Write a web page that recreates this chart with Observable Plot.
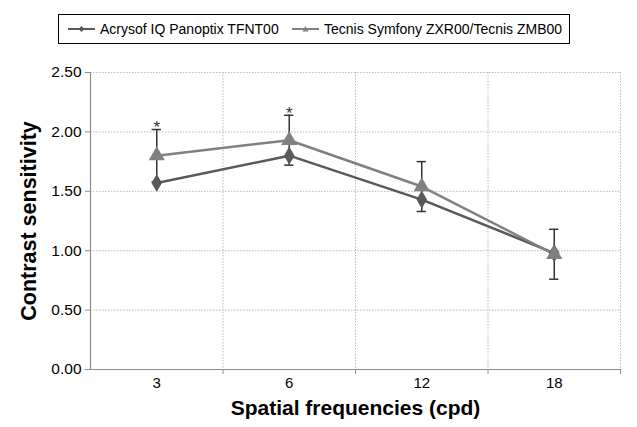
<!DOCTYPE html>
<html>
<head>
<meta charset="utf-8">
<script src="https://cdn.jsdelivr.net/npm/d3@7"></script>
<script src="https://cdn.jsdelivr.net/npm/@observablehq/plot@0.6"></script>
<style>
  body { margin: 0; background: #fff; font-family: "Liberation Sans", Arial, sans-serif; }
  #wrap { width: 637px; }
  #legend { position: relative; height: 50px; }
  #legend .box { position: absolute; left: 58px; top: 14px; width: 512px; height: 30px; border: 1px solid #000; box-sizing: border-box; }
  #legend .item { position: absolute; top: 0; height: 28px; display: flex; align-items: center; font-size: 14px; color: #000; white-space: nowrap; }
  #legend svg { margin-right: 5px; }
</style>
</head>
<body>
<div id="wrap">
  <div id="legend"><div class="box">
    <div class="item" style="left:9px"><svg width="27" height="12"><line x1="0" y1="6" x2="27" y2="6" stroke="#595959" stroke-width="2"/><path d="M13.5,3 L16.5,6 L13.5,9 L10.5,6 Z" fill="#595959"/></svg><span id="l0"></span></div>
    <div class="item" style="left:233px"><svg width="27" height="12"><line x1="0" y1="6" x2="27" y2="6" stroke="#808080" stroke-width="2"/><path d="M13.5,3 L16.5,8.5 L10.5,8.5 Z" fill="#808080"/></svg><span id="l1"></span></div>
  </div></div>
  <div id="chart"></div>
</div>
<script>
const categories = ["3", "6", "12", "18"];
const seriesNames = ["Acrysof IQ Panoptix TFNT00", "Tecnis Symfony ZXR00/Tecnis ZMB00"];
const acrysof = [1.57, 1.80, 1.43, 0.98];
const tecnis = [1.80, 1.93, 1.54, 0.97];
const tecnisSD = [0.22, 0.21, 0.21, 0.21];
const significant = [true, true, false, false];
const yTicks = [0, 0.5, 1.0, 1.5, 2.0, 2.5];

document.getElementById("l0").textContent = seriesNames[0];
document.getElementById("l1").textContent = seriesNames[1];

const pos = categories.map((c, i) => i + 0.5);
const A = categories.map((c, i) => ({x: pos[i], y: acrysof[i]}));
const T = categories.map((c, i) => ({x: pos[i], y: tecnis[i], lo: tecnis[i] - tecnisSD[i], hi: tecnis[i] + tecnisSD[i], sig: significant[i]}));
const bounds = categories.map((c, i) => i + 1);
const capW = 0.035;

const chart = Plot.plot({
  width: 637,
  height: 377,
  marginLeft: 90,
  marginRight: 17,
  marginTop: 22,
  marginBottom: 58,
  style: {fontFamily: "Liberation Sans, Arial, sans-serif", fontSize: "15px", color: "#000", background: "#fff", overflow: "visible"},
  x: {domain: [0, categories.length]},
  y: {domain: [0, 2.5]},
  marks: [
    Plot.gridY(yTicks.slice(1), {stroke: "#b8b8b8", strokeOpacity: 1, strokeDasharray: "1.5,1.5"}),
    Plot.gridX(bounds, {stroke: "#b8b8b8", strokeOpacity: 1, strokeDasharray: "1.5,1.5"}),
    Plot.ruleX([0], {stroke: "#8c8c8c", strokeWidth: 1.2}),
    Plot.ruleY([0], {stroke: "#8c8c8c", strokeWidth: 1.2}),
    Plot.axisY({ticks: yTicks, tickFormat: d3.format(".2f"), tickSize: 5, tickPadding: 4, stroke: "#8c8c8c", label: null, fontSize: 15.5}),
    Plot.axisX({ticks: bounds, tickSize: 5, tickFormat: () => "", stroke: "#8c8c8c", label: null}),
    Plot.axisX({ticks: pos, tickSize: 0, tickPadding: 8, tickFormat: (d) => categories[Math.round(d - 0.5)], label: null, fontSize: 15}),
    Plot.line(A, {x: "x", y: "y", stroke: "#595959", strokeWidth: 2.5}),
    Plot.line(T, {x: "x", y: "y", stroke: "#808080", strokeWidth: 2.5}),
    Plot.ruleX(T, {x: "x", y1: "lo", y2: "hi", stroke: "#333", strokeWidth: 1.5}),
    Plot.ruleY(T, {y: "hi", x1: (d) => d.x - capW, x2: (d) => d.x + capW, stroke: "#333", strokeWidth: 1.5}),
    Plot.ruleY(T, {y: "lo", x1: (d) => d.x - capW, x2: (d) => d.x + capW, stroke: "#333", strokeWidth: 1.5}),
    Plot.dot(A, {x: "x", y: "y", symbol: "diamond", r: 5.5, fill: "#595959", stroke: "none"}),
    Plot.dot(T, {x: "x", y: "y", symbol: "triangle", r: 6, fill: "#808080", stroke: "none"}),
    Plot.text(T.filter(d => d.sig), {x: "x", y: "hi", text: () => "*", dy: -2, fontSize: 17, fill: "#333"}),
    Plot.text(["Spatial frequencies (cpd)"], {frameAnchor: "bottom", dy: 45, fontSize: 21, fontWeight: "bold", fill: "#000"}),
    Plot.text(["Contrast sensitivity"], {frameAnchor: "left", textAnchor: "middle", dx: -61, rotate: -90, fontSize: 21.5, fontWeight: "bold", fill: "#000"})
  ]
});
document.getElementById("chart").appendChild(chart);
</script>
</body>
</html>
